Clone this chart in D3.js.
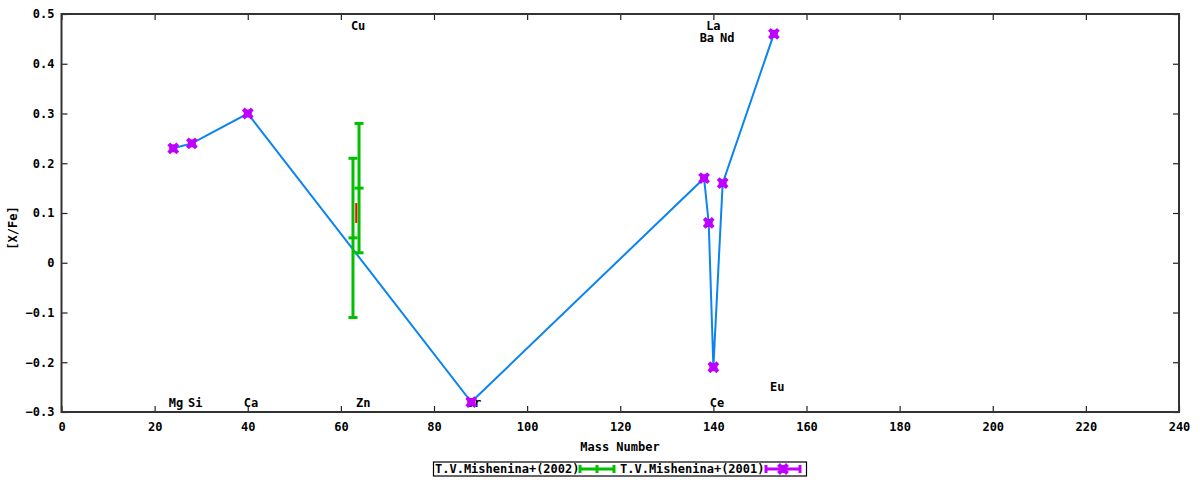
<!DOCTYPE html>
<html>
<head>
<meta charset="utf-8">
<script src="https://cdn.jsdelivr.net/npm/d3@7"></script>
<style>
  body { margin: 0; background: white; }
  text { font-family: "DejaVu Sans Mono", monospace; font-weight: bold; font-size: 12px; fill: black; }
</style>
</head>
<body>
<svg id="chart" width="1200" height="480"></svg>
<script>
// T.V.Mishenina+(2001): points joined by the blue line
const mass2001 = [24, 28, 40, 88, 138, 139, 140, 142, 153];
const abund2001 = [0.23, 0.24, 0.30, -0.28, 0.17, 0.08, -0.21, 0.16, 0.46];

// T.V.Mishenina+(2002): values with error bars
const mass2002 = [62.6, 63.9];
const abund2002 = [0.05, 0.15];
const err2002 = [0.16, 0.13];

// small red error bar without a legend entry
const massRed = [63.3];
const abundRed = [0.10];
const errRed = [0.02];

// element labels (mass position, [X/Fe] position)
const labelText = ["Mg", "Si", "Ca", "Zn", "Cu", "Sr", "Ba", "La", "Nd", "Ce", "Eu"];
const labelX = [24.6, 28.7, 40.7, 64.8, 63.7, 88.6, 138.6, 140.0, 143.0, 140.8, 153.7];
const labelY = [-0.282, -0.282, -0.282, -0.282, 0.476, -0.282, 0.452, 0.476, 0.452, -0.282, -0.25];

const xTicks = [0, 20, 40, 60, 80, 100, 120, 140, 160, 180, 200, 220, 240];
const yTicks = [-0.3, -0.2, -0.1, 0, 0.1, 0.2, 0.3, 0.4, 0.5];

const svg = d3.select("#chart");
const mLeft = 61.5, mRight = 1179, mTop = 14, mBottom = 412;

const x = d3.scaleLinear().domain([0, 240]).range([mLeft, mRight]);
const y = d3.scaleLinear().domain([-0.3, 0.5]).range([mBottom, mTop]);

const green = "#00c000", purple = "#c000ff", blue = "#0a84f0";

// axes with inward ticks, mirrored on top and right
const fmt = d => d === 0 ? "0" : d3.format(".1f")(d);
svg.append("g").attr("transform", "translate(0," + mBottom + ")")
    .call(d3.axisBottom(x).tickValues(xTicks).tickSize(-6).tickPadding(10).tickFormat(d3.format("d")));
svg.append("g").attr("transform", "translate(0," + mTop + ")")
    .call(d3.axisTop(x).tickValues(xTicks).tickSize(-6).tickFormat(""));
svg.append("g").attr("transform", "translate(" + mLeft + ",0)")
    .call(d3.axisLeft(y).tickValues(yTicks).tickSize(-6).tickPadding(7).tickFormat(fmt));
svg.append("g").attr("transform", "translate(" + mRight + ",0)")
    .call(d3.axisRight(y).tickValues(yTicks).tickSize(-6).tickFormat(""));
svg.selectAll(".domain").remove();
svg.selectAll(".tick line").attr("stroke", "#222").attr("stroke-width", 1.2);
svg.selectAll(".tick text").style("font-family", "DejaVu Sans Mono").style("font-weight", "bold").style("font-size", "12px");

svg.append("rect")
    .attr("x", mLeft).attr("y", mTop)
    .attr("width", mRight - mLeft).attr("height", mBottom - mTop)
    .attr("fill", "none").attr("stroke", "#333").attr("stroke-width", 2);

// axis titles
svg.append("text").attr("x", 620).attr("y", 451).attr("text-anchor", "middle").text("Mass Number");
svg.append("text").attr("transform", "translate(17,228) rotate(-90)")
    .attr("text-anchor", "middle").text("[X/Fe]");

// element labels
svg.append("g").selectAll("text").data(labelText).enter().append("text")
    .attr("x", (d, i) => x(labelX[i]))
    .attr("y", (d, i) => y(labelY[i]))
    .attr("dy", "0.35em")
    .attr("text-anchor", "middle")
    .text(d => d);

// blue line through the 2001 points
const line = d3.line().x(d => x(d[0])).y(d => y(d[1]));
svg.append("path")
    .datum(mass2001.map((m, i) => [m, abund2001[i]]))
    .attr("d", line)
    .attr("fill", "none").attr("stroke", blue).attr("stroke-width", 2);

// error bars
function errorBars(masses, vals, errs, color, cap, width) {
    const g = svg.append("g").attr("stroke", color).attr("stroke-width", width);
    masses.forEach((m, i) => {
        const cx = x(m);
        g.append("line").attr("x1", cx).attr("x2", cx)
            .attr("y1", y(vals[i] - errs[i])).attr("y2", y(vals[i] + errs[i]));
        if (cap > 0) {
            [vals[i] - errs[i], vals[i] + errs[i], vals[i]].forEach(v => {
                g.append("line").attr("x1", cx - cap).attr("x2", cx + cap)
                    .attr("y1", y(v)).attr("y2", y(v));
            });
        }
    });
}
errorBars(mass2002, abund2002, err2002, green, 4.5, 3);
errorBars(massRed, abundRed, errRed, "#ff0000", 0, 2);

// purple cross markers
function cross(g, cx, cy) {
    const s = 4.5;
    g.append("path")
        .attr("d", "M" + (cx - s) + "," + (cy - s) + "L" + (cx + s) + "," + (cy + s) +
                   "M" + (cx - s) + "," + (cy + s) + "L" + (cx + s) + "," + (cy - s))
        .attr("stroke", purple).attr("stroke-width", 4).attr("fill", "none");
    g.append("rect").attr("x", cx - 4).attr("y", cy - 4).attr("width", 8).attr("height", 8)
        .attr("fill", purple);
}
const marks = svg.append("g");
mass2001.forEach((m, i) => cross(marks, x(m), y(abund2001[i])));

// legend
const legend = svg.append("g");
legend.append("rect").attr("x", 433.5).attr("y", 462).attr("width", 373).attr("height", 14)
    .attr("fill", "white").attr("stroke", "black").attr("stroke-width", 1.2);
legend.append("text").attr("x", 435).attr("y", 473).text("T.V.Mishenina+(2002)");
legend.append("text").attr("x", 620).attr("y", 473).text("T.V.Mishenina+(2001)");

function legendSample(x0, x1, color) {
    const g = legend.append("g").attr("stroke", color).attr("stroke-width", 3);
    const ly = 469;
    g.append("line").attr("x1", x0).attr("x2", x1).attr("y1", ly).attr("y2", ly);
    [x0, x1].forEach(px => g.append("line").attr("x1", px).attr("x2", px).attr("y1", ly - 4).attr("y2", ly + 4));
    return g;
}
legendSample(580, 614, green)
    .append("line").attr("x1", 597).attr("x2", 597).attr("y1", 465).attr("y2", 473);
legendSample(766, 800, purple);
cross(legend, 783, 469);
</script>
</body>
</html>
